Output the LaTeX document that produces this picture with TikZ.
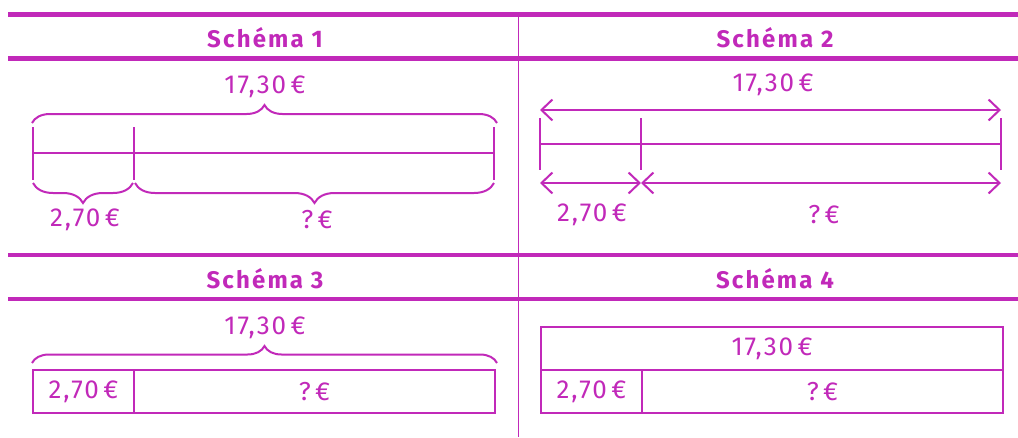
\documentclass[tikz,border=0pt]{standalone}
\usepackage{fontspec}
\setmainfont{Fira Sans}
\usetikzlibrary{arrows.meta,positioning,decorations.pathreplacing}
\definecolor{schemapink}{RGB}{193,41,185}
\tikzset{
	rule/.style={schemapink, line width=4.4pt},
	bar/.style={schemapink, line width=2pt},
	curly/.style={schemapink, line width=2pt, decorate, decoration={brace, amplitude=#1}},
	span/.style={schemapink, line width=2pt, {Straight Barb[length=11pt,width=21pt]}-{Straight Barb[length=11pt,width=21pt]}},
	amount/.style={schemapink, font=\fontsize{26}{28}\selectfont\addfontfeatures{LetterSpace=7}, inner sep=0pt},
	title/.style={schemapink, font=\fontsize{24}{26}\selectfont\bfseries\addfontfeatures{LetterSpace=9}, inner sep=0pt},
	cell/.style={draw=schemapink, line width=2pt, schemapink, outer sep=0pt, inner sep=0pt,
		minimum height=43pt, font=\fontsize{26}{28}\selectfont\addfontfeatures{LetterSpace=7}, anchor=north west}
}
\begin{document}
\begin{tikzpicture}[x=1pt,y=-1pt]
	\useasboundingbox (0,0) rectangle (1018,437);
	%table rules
	\foreach \y in {14.5, 58.3, 255, 299}{
		\draw[rule] (8,\y) -- (1018,\y);
	}
	\draw[schemapink, line width=1.6pt] (518.5,13) -- (518.5,437);
	\node[title] (t1) at (265,38) {Schéma 1};
	\node[title] (t2) at (775,38) {Schéma 2};
	\node[title] (t3) at (265,279) {Schéma 3};
	\node[title] (t4) at (775,279) {Schéma 4};

	%schema 1
	\coordinate (a1) at (33,153);
	\coordinate (b1) at (134,153);
	\coordinate (c1) at (494,153);
	\draw[bar] (a1) -- (c1);
	\foreach \p in {a1, b1, c1}{
		\draw[bar] ([yshift=26pt]\p) -- ([yshift=-27pt]\p);
	}
	\draw[curly=18pt] (32,123) -- (497,123);
	\draw[curly=20pt] (133,183) -- (33,183);
	\draw[curly=20pt] (494,183) -- (135,183);
	\node[amount] (total1) at (265,87) {17,30\,€};
	\node[amount] (part1) at (85,220) {2,70\,€};
	\node[amount] (rest1) at (317,220) {?\,€};

	%schema 2
	\coordinate (a2) at (540,144);
	\coordinate (b2) at (641,144);
	\coordinate (c2) at (1001,144);
	\draw[bar] (a2) -- (c2);
	\foreach \p in {a2, b2, c2}{
		\draw[bar] ([yshift=26pt]\p) -- ([yshift=-26pt]\p);
	}
	\draw[span] ([yshift=34pt]a2) -- ([yshift=34pt]c2);
	\draw[span] ([yshift=-39pt]a2) -- ([yshift=-39pt]b2);
	\draw[span] ([yshift=-39pt]b2) -- ([yshift=-39pt]c2);
	\node[amount] (total2) at (773,85) {17,30\,€};
	\node[amount] (part2) at (592,215) {2,70\,€};
	\node[amount] (rest2) at (824,215) {?\,€};

	%schema 3
	\node[cell, minimum width=101pt] (part3) at (33,370) {2,70\,€};
	\node[cell, minimum width=361pt, right=0pt of part3] (rest3) {?\,€};
	\draw[curly=17pt] (32,363) -- (497,363);
	\node[amount] (total3) at (265,328) {17,30\,€};

	%schema 4
	\node[cell, minimum width=462pt] (total4) at (541,327) {17,30\,€};
	\node[cell, minimum width=101pt] (part4) at (541,370) {2,70\,€};
	\node[cell, minimum width=361pt, right=0pt of part4] (rest4) {?\,€};
\end{tikzpicture}
\end{document}
